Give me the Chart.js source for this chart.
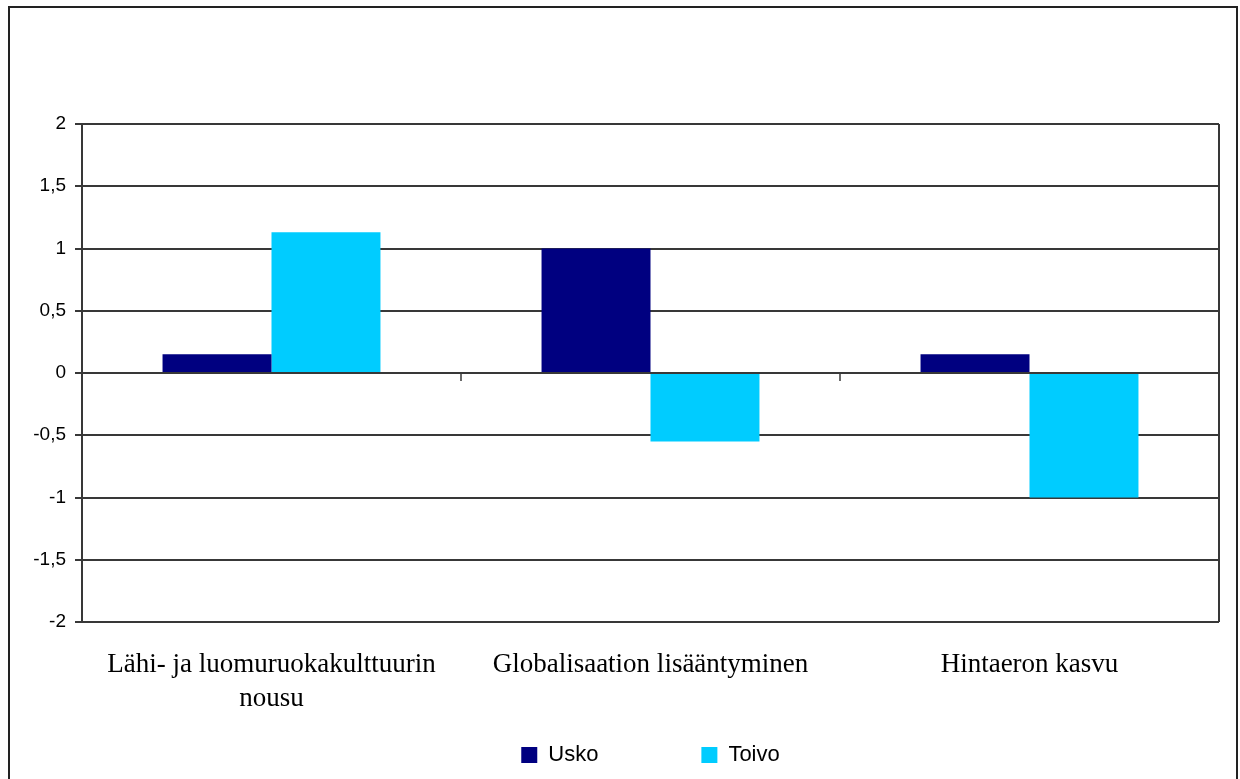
<!DOCTYPE html>
<html>
<head>
<meta charset="utf-8">
<script src="https://cdn.jsdelivr.net/npm/chart.js@4.4.1/dist/chart.umd.min.js"></script>
<style>
  html, body { margin: 0; padding: 0; background: #ffffff; }
  #wrap { width: 1240px; height: 779px; position: relative; }
</style>
</head>
<body>
<div id="wrap"><canvas id="c"></canvas></div>
<script>
const categories = [
  ['Lähi- ja luomuruokakulttuurin', 'nousu'],
  'Globalisaation lisääntyminen',
  'Hintaeron kasvu'
];
const seriesNames = ['Usko', 'Toivo'];
const uskoValues = [0.15, 1.0, 0.15];
const toivoValues = [1.13, -0.55, -1.0];
const yMin = -2, yMax = 2, yStep = 0.5;

const framePlugin = {
  id: 'frame',
  afterLayout(chart) {
    // let the category labels extend below the (short) x-axis box
    chart.scales.x.bottom = chart.height;
  },
  afterDatasetsDraw(chart) {
    const ctx = chart.ctx;
    const a = chart.chartArea;
    const x = chart.scales.x, y = chart.scales.y;
    ctx.save();
    ctx.strokeStyle = '#383838';
    ctx.lineWidth = 2;
    ctx.beginPath();
    ctx.moveTo(a.right, a.top);
    ctx.lineTo(a.right, a.bottom);
    ctx.stroke();
    const y0 = y.getPixelForValue(0);
    ctx.lineWidth = 1.5;
    for (let i = 1; i < categories.length; i++) {
      const px = (x.getPixelForValue(i - 1) + x.getPixelForValue(i)) / 2;
      ctx.beginPath();
      ctx.moveTo(px, y0);
      ctx.lineTo(px, y0 + 8);
      ctx.stroke();
    }
    ctx.restore();
  },
  afterDraw(chart) {
    const ctx = chart.ctx;
    ctx.save();
    ctx.strokeStyle = '#222';
    ctx.lineWidth = 2;
    ctx.strokeRect(9, 7, 1228, 800);
    ctx.restore();
  }
};

new Chart(document.getElementById('c'), {
  type: 'bar',
  data: {
    labels: categories,
    datasets: [
      { label: seriesNames[0], data: uskoValues, backgroundColor: '#000080', borderWidth: 0 },
      { label: seriesNames[1], data: toivoValues, backgroundColor: '#00CCFF', borderWidth: 0 }
    ]
  },
  options: {
    responsive: true,
    maintainAspectRatio: false,
    animation: false,
    layout: { padding: { left: 0, right: 21, top: 124, bottom: 3 } },
    datasets: { bar: { categoryPercentage: 0.575, barPercentage: 1.0 } },
    plugins: {
      tooltip: { enabled: false },
      legend: {
        position: 'bottom',
        fullSize: false,
        labels: {
          boxWidth: 16,
          boxHeight: 16,
          padding: 103,
          color: '#000',
          font: { family: '"Liberation Sans", Arial, sans-serif', size: 22 }
        }
      }
    },
    scales: {
      x: {
        afterFit(s) { s.height = 19; },
        grid: { display: false, drawTicks: false },
        border: { display: false },
        ticks: {
          padding: 26,
          color: '#000',
          maxRotation: 0,
          autoSkip: false,
          font: { family: '"Liberation Serif", "Times New Roman", serif', size: 27, lineHeight: 1.25 }
        }
      },
      y: {
        min: yMin,
        max: yMax,
        afterFit(s) { s.width = 82; },
        grid: { color: '#383838', lineWidth: 2, tickLength: 7, drawTicks: true },
        border: { display: true, color: '#383838', width: 2 },
        ticks: {
          stepSize: yStep,
          padding: 9,
          color: '#000',
          font: { family: '"Liberation Sans", Arial, sans-serif', size: 19 },
          callback: (v) => String(v).replace('.', ',')
        }
      }
    }
  },
  plugins: [framePlugin]
});
</script>
</body>
</html>
